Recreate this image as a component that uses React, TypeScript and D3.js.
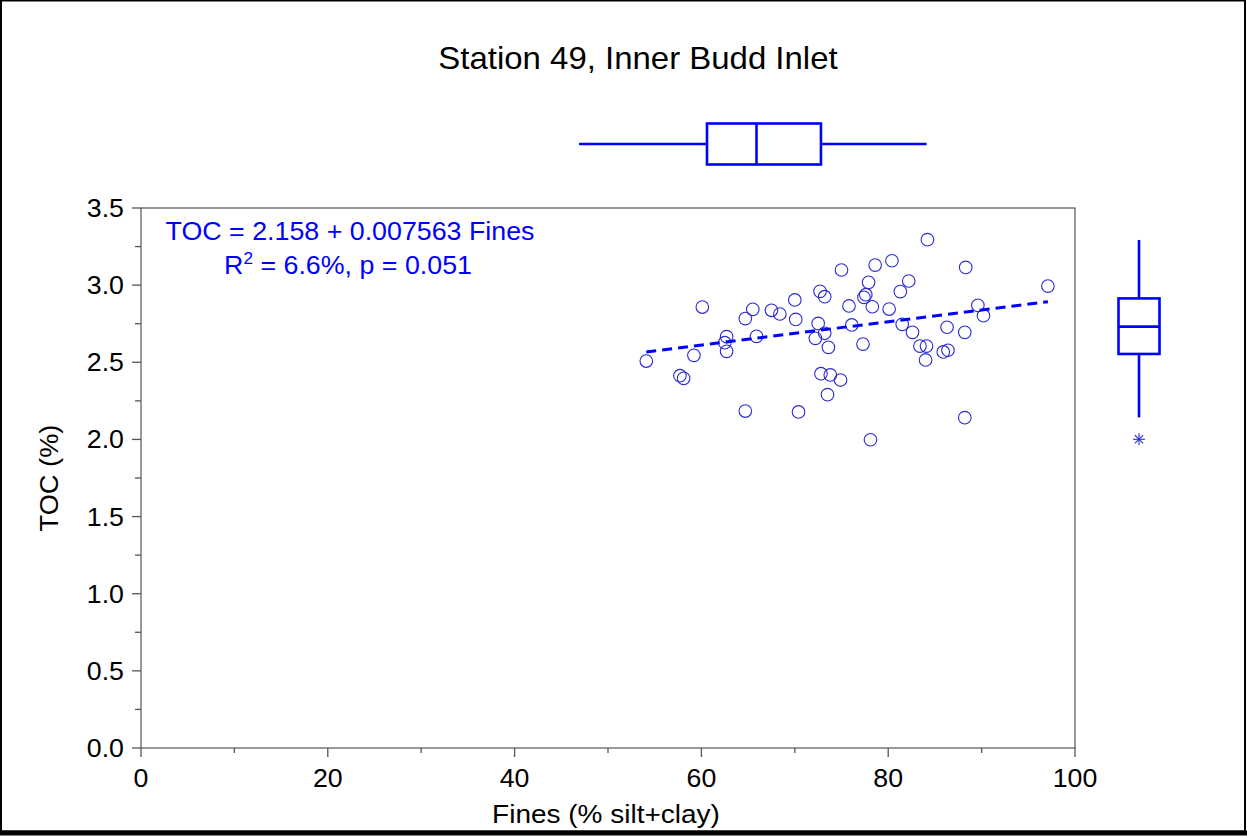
import { useEffect } from 'react';
import * as d3 from 'd3';

// Fines (% silt+clay) and TOC (%)
const FINES = [
  54.1, 60.1, 59.2, 57.7, 58.1, 62.7, 62.5, 62.7, 64.7, 65.5, 64.7, 65.9, 67.5, 68.4,
  70.0, 70.1, 70.4, 72.7, 73.2, 72.5, 73.2, 72.2, 73.6, 72.8, 73.8, 74.9, 73.5, 75.0,
  75.8, 76.1, 84.2, 80.4, 78.6, 88.3, 77.9, 82.2, 81.3, 77.4, 77.6, 78.3, 80.1, 97.1,
  89.6, 90.2, 81.5, 82.6, 86.3, 88.2, 77.3, 83.4, 84.1, 85.9, 86.4, 84.0, 88.2, 78.1,
];
const TOC = [
  2.508, 2.858, 2.545, 2.413, 2.396, 2.666, 2.627, 2.571, 2.783, 2.843, 2.184, 2.668, 2.837, 2.813,
  2.904, 2.778, 2.178, 2.96, 2.925, 2.752, 2.688, 2.655, 2.597, 2.426, 2.418, 2.385, 2.29, 3.098,
  2.865, 2.742, 3.295, 3.158, 3.13, 3.115, 3.018, 3.027, 2.958, 2.921, 2.938, 2.86, 2.845, 2.994,
  2.869, 2.802, 2.746, 2.694, 2.727, 2.694, 2.618, 2.605, 2.605, 2.567, 2.578, 2.515, 2.141, 1.998,
];

// regression: TOC = a + b * Fines
const FIT = [2.158, 0.007563];

// marginal box plots: [whiskerLow, q1, median, q3, whiskerHigh]
const FINES_BOX = [46.9, 60.6, 65.9, 72.8, 84.1];
const TOC_BOX = [2.143, 2.554, 2.731, 2.914, 3.293];
const TOC_OUTLIERS = [2.001];

const X_TICKS = [0, 20, 40, 60, 80, 100];
const X_MINOR = [10, 30, 50, 70, 90];
const Y_TICKS = [0, 0.5, 1.0, 1.5, 2.0, 2.5, 3.0, 3.5];
const Y_MINOR = [0.25, 0.75, 1.25, 1.75, 2.25, 2.75, 3.25];

const W = 1247, H = 836;
const L = 141, R = 1075, T = 208, B = 748;
const BLUE = '#0000ff';
const FONT = '"Liberation Sans", Arial, sans-serif';

// the original text is a little wider than Liberation Sans at the same height
function Txt({ x, y, size, sx, anchor = 'middle', fill = '#000', rot = 0, children }: any) {
  return (
    <text
      transform={`translate(${x},${y}) rotate(${rot}) scale(${sx},1)`}
      fontSize={size}
      textAnchor={anchor}
      fill={fill}
    >
      {children}
    </text>
  );
}

export default function App() {
  useEffect(() => {
    document.body.style.margin = '0';
  }, []);

  const x = d3.scaleLinear().domain([0, 100]).range([L, R]);
  const y = d3.scaleLinear().domain([0, 3.5]).range([B, T]);

  const pts = FINES.map((f, i) => ({ f, t: TOC[i] }));
  const [fMin, fMax] = d3.extent(FINES) as [number, number];
  const fitLine = d3.line<number>()
    .x((f) => x(f))
    .y((f) => y(FIT[0] + FIT[1] * f))([fMin, fMax]) as string;

  // top box (fines) sits above the plot
  const tbY = 144, tbH = 41;
  // right box (toc) sits beside the plot
  const rbX = 1139, rbW = 41;

  return (
    <svg width={W} height={H} style={{ display: 'block' }} fontFamily={FONT}>
      <rect x={0} y={0} width={W} height={H} fill="#fff" />
      <rect x={1} y={0.5} width={1244} height={831} fill="none" stroke="#000" strokeWidth={2} />
      <line x1={0} x2={W} y1={833} y2={833} stroke="#000" strokeWidth={5} />

      <Txt x={638} y={69} size={32} sx={1.03}>Station 49, Inner Budd Inlet</Txt>

      {/* plot frame */}
      <rect x={L} y={T} width={R - L} height={B - T} fill="none" stroke="#333" strokeWidth={1} />

      {/* x axis ticks */}
      {X_TICKS.map((v) => (
        <g key={'xt' + v}>
          <line x1={x(v)} x2={x(v)} y1={B} y2={B + 9} stroke="#555" strokeWidth={1.3} />
          <Txt x={x(v)} y={787} size={25} sx={1.07}>{v}</Txt>
        </g>
      ))}
      {X_MINOR.map((v) => (
        <line key={'xm' + v} x1={x(v)} x2={x(v)} y1={B} y2={B + 5} stroke="#555" strokeWidth={1.3} />
      ))}

      {/* y axis ticks */}
      {Y_TICKS.map((v) => (
        <g key={'yt' + v}>
          <line x1={L - 9} x2={L} y1={y(v)} y2={y(v)} stroke="#555" strokeWidth={1.3} />
          <Txt x={124} y={y(v) + 9} size={25} sx={1.07} anchor="end">{v.toFixed(1)}</Txt>
        </g>
      ))}
      {Y_MINOR.map((v) => (
        <line key={'ym' + v} x1={L - 6} x2={L} y1={y(v)} y2={y(v)} stroke="#555" strokeWidth={1.3} />
      ))}

      <Txt x={606} y={823} size={25} sx={1.12}>Fines (% silt+clay)</Txt>
      <Txt x={58} y={(T + B) / 2} rot={-90} size={25} sx={1.09}>TOC (%)</Txt>

      {/* fit annotation */}
      <Txt x={350} y={240} size={25} sx={1.073} fill={BLUE}>TOC = 2.158 + 0.007563 Fines</Txt>
      <Txt x={348} y={274} size={25} sx={1.073} fill={BLUE}>
        R<tspan fontSize={16} dy={-10}>2</tspan><tspan dy={10}> = 6.6%, p = 0.051</tspan>
      </Txt>

      {/* points */}
      {pts.map((p, i) => (
        <circle key={i} cx={x(p.f)} cy={y(p.t)} r={6.3} fill="none" stroke="#2a2ad0" strokeWidth={1.1} />
      ))}

      <path d={fitLine} fill="none" stroke={BLUE} strokeWidth={3} strokeDasharray="10,6" />

      {/* top marginal box plot */}
      <g stroke={BLUE} strokeWidth={2.6} fill="none">
        <line x1={x(FINES_BOX[0])} x2={x(FINES_BOX[1])} y1={tbY} y2={tbY} />
        <line x1={x(FINES_BOX[3])} x2={x(FINES_BOX[4])} y1={tbY} y2={tbY} />
        <rect x={x(FINES_BOX[1])} y={tbY - tbH / 2} width={x(FINES_BOX[3]) - x(FINES_BOX[1])} height={tbH} />
        <line x1={x(FINES_BOX[2])} x2={x(FINES_BOX[2])} y1={tbY - tbH / 2} y2={tbY + tbH / 2} />
      </g>

      {/* right marginal box plot */}
      <g stroke={BLUE} strokeWidth={2.6} fill="none">
        <line x1={rbX} x2={rbX} y1={y(TOC_BOX[0])} y2={y(TOC_BOX[1])} />
        <line x1={rbX} x2={rbX} y1={y(TOC_BOX[3])} y2={y(TOC_BOX[4])} />
        <rect x={rbX - rbW / 2} y={y(TOC_BOX[3])} width={rbW} height={y(TOC_BOX[1]) - y(TOC_BOX[3])} />
        <line x1={rbX - rbW / 2} x2={rbX + rbW / 2} y1={y(TOC_BOX[2])} y2={y(TOC_BOX[2])} />
      </g>
      {TOC_OUTLIERS.map((v) => {
        const cy = y(v), s = 6;
        return (
          <g key={'o' + v} stroke="#2a2ad0" strokeWidth={1.1}>
            <line x1={rbX - s} x2={rbX + s} y1={cy} y2={cy} />
            <line x1={rbX - s * 0.7} x2={rbX + s * 0.7} y1={cy - s * 0.7} y2={cy + s * 0.7} />
            <line x1={rbX - s * 0.7} x2={rbX + s * 0.7} y1={cy + s * 0.7} y2={cy - s * 0.7} />
            <line x1={rbX} x2={rbX} y1={cy - s} y2={cy + s} />
          </g>
        );
      })}
    </svg>
  );
}
